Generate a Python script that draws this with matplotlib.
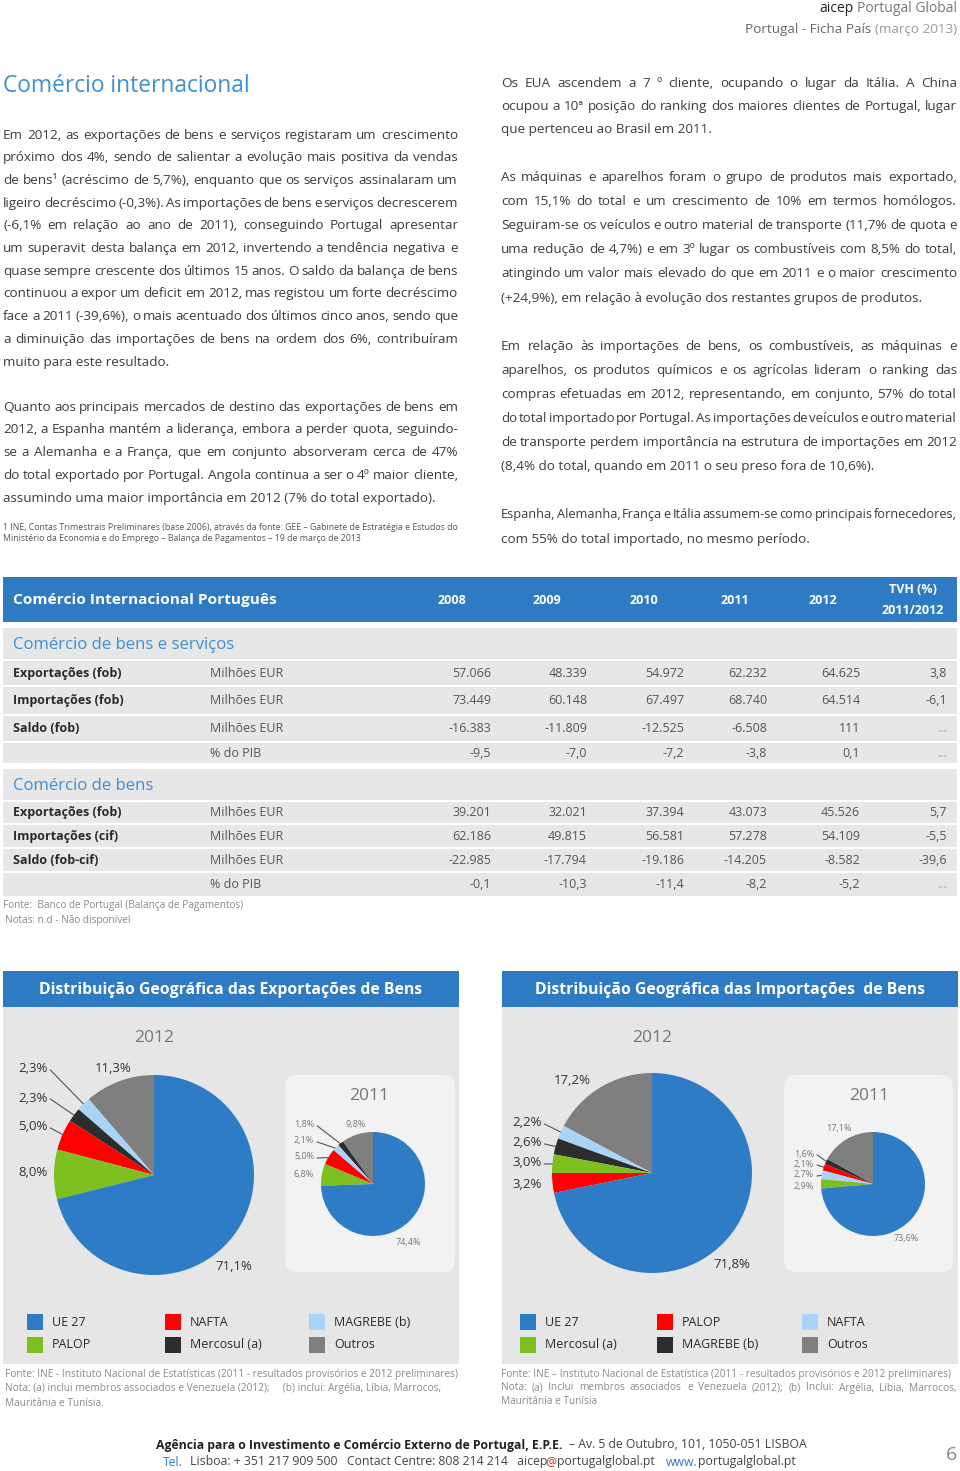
import numpy as np
import matplotlib
matplotlib.use("Agg")
import matplotlib.pyplot as plt
from matplotlib.patches import Rectangle, FancyBboxPatch

# ==============================
# DATA
# ==============================
years = ["2008", "2009", "2010", "2011", "2012"]

bs_labels = ["Exportações (fob)", "Importações (fob)", "Saldo (fob)", ""]
bs_units = ["Milhões EUR", "Milhões EUR", "Milhões EUR", "% do PIB"]
bs_values = [
    ["57.066", "48.339", "54.972", "62.232", "64.625", "3,8"],
    ["73.449", "60.148", "67.497", "68.740", "64.514", "-6,1"],
    ["-16.383", "-11.809", "-12.525", "-6.508", "111", "..."],
    ["-9,5", "-7,0", "-7,2", "-3,8", "0,1", "..."],
]

b_labels = ["Exportações (fob)", "Importações (cif)", "Saldo (fob-cif)", ""]
b_units = ["Milhões EUR", "Milhões EUR", "Milhões EUR", "% do PIB"]
b_values = [
    ["39.201", "32.021", "37.394", "43.073", "45.526", "5,7"],
    ["62.186", "49.815", "56.581", "57.278", "54.109", "-5,5"],
    ["-22.985", "-17.794", "-19.186", "-14.205", "-8.582", "-39,6"],
    ["-0,1", "-10,3", "-11,4", "-8,2", "-5,2", "..."],
]

exp_regions = ["UE 27", "NAFTA", "MAGREBE (b)", "PALOP", "Mercosul (a)", "Outros"]
exp_2012 = [71.1, 5.0, 2.3, 8.0, 2.3, 11.3]
exp_2011 = [74.4, 5.0, 2.1, 6.8, 1.8, 9.8]

imp_regions = ["UE 27", "PALOP", "NAFTA", "Mercosul (a)", "MAGREBE (b)", "Outros"]
imp_2012 = [71.8, 3.2, 2.2, 3.0, 2.6, 17.2]
imp_2011 = [73.6, 2.1, 2.7, 2.9, 1.6, 17.1]

# ==============================
# STYLE / LAYOUT
# ==============================
W, H = 960, 1471
BLUE = "#2e7bc4"
SEC_BLUE = "#3f8fd4"
PIE_BLUE = "#2f7cc6"
RED = "#ff0000"
LBLUE = "#a9d3f7"
GREEN = "#7cbf1e"
BLACK = "#2d2d2d"
GRAY = "#7f7f7f"
TXT = "#3c3c3c"
ROW = "#e7e7e7"
PANEL = "#e6e6e6"
BOX = "#f2f2f2"

slice_colors = [PIE_BLUE, RED, LBLUE, GREEN, BLACK, GRAY]

plt.rcParams["font.family"] = ["Open Sans", "DejaVu Sans"]

fig = plt.figure(figsize=(9.6, 14.71), dpi=100)
ax = fig.add_axes([0, 0, 1, 1])
ax.set_xlim(0, W)
ax.set_ylim(H, 0)
ax.axis("off")
renderer = fig.canvas.get_renderer()


def space_w(size, weight="normal"):
    t1 = ax.text(0, 0, "a a", fontsize=size, fontweight=weight)
    t2 = ax.text(0, 0, "aa", fontsize=size, fontweight=weight)
    sp = t1.get_window_extent(renderer).width - t2.get_window_extent(renderer).width
    t1.remove()
    t2.remove()
    return sp


def measure(s, size, weight="normal"):
    core = s.strip(" ")
    n_sp = len(s) - len(s.lstrip(" ")) + len(s) - len(s.rstrip(" "))
    w = 0.0
    if core:
        t = ax.text(0, 0, core, fontsize=size, fontweight=weight)
        w = t.get_window_extent(renderer).width
        t.remove()
    if n_sp:
        w += n_sp * space_w(size, weight)
    return w


def run(x, y, parts, size, ha="left", pad=0.0):
    """parts: list of (text, color, weight), drawn one after another"""
    widths = [measure(t, size, wt) + pad for t, c, wt in parts]
    total = sum(widths)
    if ha == "right":
        x -= total
    elif ha == "center":
        x -= total / 2
    for (t, c, wt), w in zip(parts, widths):
        lead = len(t) - len(t.lstrip(" "))
        off = measure(" " * lead, size, wt) if lead else 0
        ax.text(x + off, y, t.strip(" "), fontsize=size, fontweight=wt, color=c,
                ha="left", va="center")
        x += w


def para(lines, x0, x1, y0, dy, size, color=TXT, plain=()):
    sp = space_w(size)
    for i, line in enumerate(lines):
        y = y0 + i * dy
        words = line.split(" ")
        if i == len(lines) - 1 or len(words) == 1 or i in plain:
            ax.text(x0, y, line, fontsize=size, color=color, ha="left", va="center")
            continue
        s = size
        ws = [measure(w, s) for w in words]
        need = sum(ws) + (len(words) - 1) * sp * 0.45
        if need > x1 - x0:
            s = size * (x1 - x0) / need
            ws = [measure(w, s) for w in words]
        gap = (x1 - x0 - sum(ws)) / (len(words) - 1)
        x = x0
        for w, wd in zip(words, ws):
            ax.text(x, y, w, fontsize=s, color=color, ha="left", va="center")
            x += wd + gap


# ==============================
# HEADER
# ==============================
run(957, 8, [("aicep ", "#222222", "normal"), ("Portugal Global", "#777777", "normal")], 10, ha="right")
run(957, 29, [("Portugal - Ficha País ", "#666666", "normal"), ("(março 2013)", "#9a9a9a", "normal")], 9.7, ha="right")

ax.text(3, 86, "Comércio internacional", fontsize=16.4, color=SEC_BLUE, ha="left", va="center")

# ==============================
# BODY TEXT
# ==============================
left_p1 = [
    "Em 2012, as exportações de bens e serviços registaram um crescimento",
    "próximo dos 4%, sendo de salientar a evolução mais positiva da vendas",
    "de bens¹ (acréscimo de 5,7%), enquanto que os serviços assinalaram um",
    "ligeiro decréscimo (-0,3%). As importações de bens e serviços decrescerem",
    "(-6,1% em relação ao ano de 2011), conseguindo Portugal apresentar",
    "um superavit desta balança em 2012, invertendo a tendência negativa e",
    "quase sempre crescente dos últimos 15 anos. O saldo da balança de bens",
    "continuou a expor um deficit em 2012, mas registou um forte decréscimo",
    "face a 2011 (-39,6%), o mais acentuado dos últimos cinco anos, sendo que",
    "a diminuição das importações de bens na ordem dos 6%, contribuíram",
    "muito para este resultado.",
]
left_p2 = [
    "Quanto aos principais mercados de destino das exportações de bens em",
    "2012, a Espanha mantém a liderança, embora a perder quota, seguindo-",
    "se a Alemanha e a França, que em conjunto absorveram cerca de 47%",
    "do total exportado por Portugal. Angola continua a ser o 4º maior cliente,",
    "assumindo uma maior importância em 2012 (7% do total exportado).",
]
right_p1 = [
    "Os EUA ascendem a 7 º cliente, ocupando o lugar da Itália. A China",
    "ocupou a 10ª posição do ranking dos maiores clientes de Portugal, lugar",
    "que pertenceu ao Brasil em 2011.",
]
right_p2 = [
    "As máquinas e aparelhos foram o grupo de produtos mais exportado,",
    "com 15,1% do total e um crescimento de 10% em termos homólogos.",
    "Seguiram-se os veículos e outro material de transporte (11,7% de quota e",
    "uma redução de 4,7%) e em 3º lugar os combustíveis com 8,5% do total,",
    "atingindo um valor mais elevado do que em 2011 e o maior crescimento",
    "(+24,9%), em relação à evolução dos restantes grupos de produtos.",
]
right_p3 = [
    "Em relação às importações de bens, os combustíveis, as máquinas e",
    "aparelhos, os produtos químicos e os agrícolas lideram o ranking das",
    "compras efetuadas em 2012, representando, em conjunto, 57% do total",
    "do total importado por Portugal. As importações de veículos e outro material",
    "de transporte perdem importância na estrutura de importações em 2012",
    "(8,4% do total, quando em 2011 o seu preso fora de 10,6%).",
]
right_p4 = [
    "Espanha, Alemanha, França e Itália assumem-se como principais fornecedores,",
    "com 55% do total importado, no mesmo período.",
]

body = 9.7
para(left_p1, 3, 458, 135, 22.7, body)
para(left_p2, 3, 458, 407, 22.75, body)
para(right_p1, 501, 957, 83, 23, body)
para(right_p2, 501, 957, 177, 24.2, body)
para(right_p3, 501, 957, 346, 24, body)
para(right_p4, 501, 957, 514, 25, body)

ax.text(3, 527, "1 INE, Contas Trimestrais Preliminares (base 2006), através da fonte: GEE – Gabinete de Estratégia e Estudos do",
        fontsize=6.3, color="#555555", ha="left", va="center")
ax.text(3, 538, "Ministério da Economia e do Emprego – Balança de Pagamentos – 19 de março de 2013",
        fontsize=6.3, color="#555555", ha="left", va="center")

# ==============================
# TABLE
# ==============================
ax.add_patch(Rectangle((3, 577), 954, 45, color=BLUE, lw=0))
ax.text(13, 600, "Comércio Internacional Português", fontsize=11.1, fontweight="bold",
        color="white", ha="left", va="center")
year_x = [452, 547, 644, 735, 823]
for yx, yr in zip(year_x, years):
    ax.text(yx, 600, yr, fontsize=9, fontweight="bold", color="white", ha="center", va="center")
ax.text(913, 589, "TVH (%)", fontsize=9, fontweight="bold", color="white", ha="center", va="center")
ax.text(913, 610, "2011/2012", fontsize=9, fontweight="bold", color="white", ha="center", va="center")

col_right = [491, 587, 684, 767, 860, 947]


def table_block(title, sec_band, rows, labels, units, values):
    ax.add_patch(Rectangle((3, sec_band[0]), 954, sec_band[1] - sec_band[0], color=ROW, lw=0))
    ax.text(13, (sec_band[0] + sec_band[1]) / 2 + 1, title, fontsize=12.1, color=SEC_BLUE,
            ha="left", va="center")
    for (top, bot), lab, unit, vals in zip(rows, labels, units, values):
        yc = (top + bot) / 2
        ax.add_patch(Rectangle((3, top), 954, bot - top, color=ROW, lw=0))
        ax.text(13, yc, lab, fontsize=9, fontweight="bold", color="#2a2a2a", ha="left", va="center")
        ax.text(210, yc, unit, fontsize=9, color="#555555", ha="left", va="center")
        for cx, v in zip(col_right, vals):
            col = "#aaaaaa" if v == "..." else "#555555"
            ax.text(cx, yc, v, fontsize=9, color=col, ha="right", va="center")


table_block("Comércio de bens e serviços", (628, 659),
            [(661, 685), (687, 714), (716, 741), (743, 763)], bs_labels, bs_units, bs_values)
table_block("Comércio de bens", (769, 800),
            [(802, 823), (825, 847), (849, 871), (873, 896)], b_labels, b_units, b_values)

ax.text(3, 905, "Fonte:  Banco de Portugal (Balança de Pagamentos)", fontsize=7.2, color="#8a8a8a",
        ha="left", va="center")
ax.text(5, 920, "Notas: n.d - Não disponível", fontsize=7.2, color="#8a8a8a", ha="left", va="center")

# ==============================
# PIE PANELS
# ==============================


def fmt(v):
    return f"{v:.1f}".replace(".", ",") + "%"


def draw_pie(cx, cy, r, values, order, label_pos, size, color):
    pax = fig.add_axes([(cx - r) / W, 1 - (cy + r) / H, 2 * r / W, 2 * r / H])
    vals = [values[i] for i in order]
    cols = [slice_colors[i] for i in order]
    pax.pie(vals, colors=cols, startangle=90, counterclock=True, radius=1,
            wedgeprops=dict(linewidth=0))
    pax.set_xlim(-1, 1)
    pax.set_ylim(-1, 1)
    pax.set_aspect("auto")
    pax.axis("off")
    total = sum(vals)
    cum = 0.0
    for v, (lx, ly, line) in zip(vals, label_pos):
        mid = np.deg2rad(90 + 360 * (cum + v / 2) / total)
        cum += v
        s = fmt(v)
        ax.text(lx, ly, s, fontsize=size, color=color, ha="left", va="center")
        if line:
            x0 = lx + measure(s, size) + 3
            ex = cx + r * 0.97 * np.cos(mid)
            ey = cy - r * 0.97 * np.sin(mid)
            ax.plot([x0, ex], [ly + 1, ey], color="#555555", lw=0.8)


def panel(x0, title, regions, legend_x, p12, p11, v12, v11, o12, o11, l12, l11, box_x):
    ax.add_patch(Rectangle((x0, 971), 456, 36, color=BLUE, lw=0))
    ax.text(x0 + 228, 990, title, fontsize=11.3, fontweight="bold", color="white",
            ha="center", va="center")
    ax.add_patch(Rectangle((x0, 1007), 456, 357, color=PANEL, lw=0))
    ax.add_patch(FancyBboxPatch((box_x[0], 1075), box_x[1] - box_x[0], 197,
                                boxstyle="round,pad=0,rounding_size=12", color=BOX, lw=0))
    ax.text(p12[0], 1038, "2012", fontsize=12.5, color="#777777", ha="center", va="center")
    ax.text(p11[0] - 4, 1096, "2011", fontsize=12.5, color="#777777", ha="center", va="center")
    draw_pie(p12[0], p12[1], 100, v12, o12, l12, 9.5, "#333333")
    draw_pie(p11[0], p11[1], 52, v11, o11, l11, 6.5, "#777777")
    for k, reg in enumerate(regions):
        row, col = divmod(k, 3)
        sx = legend_x[col]
        sy = 1314 + row * 23
        ax.add_patch(Rectangle((sx, sy), 16, 16, color=slice_colors[k], lw=0))
        ax.text(sx + 25, sy + 8, reg, fontsize=9, color="#2a2a2a", ha="left", va="center")


panel(3, "Distribuição Geográfica das Exportações de Bens", exp_regions, [27, 165, 309],
      (154, 1175), (373, 1184), exp_2012, exp_2011,
      [5, 2, 4, 1, 3, 0], [5, 4, 2, 1, 3, 0],
      [(95, 1069, False), (18, 1069, True), (18, 1098, True), (18, 1127, True),
       (18, 1172, False), (215, 1266, False)],
      [(345, 1125, False), (294, 1125, True), (294, 1141, True), (294, 1157, True),
       (294, 1175, False), (396, 1242, False)],
      (285, 455))

panel(502, "Distribuição Geográfica das Importações  de Bens", imp_regions, [520, 657, 802],
      (652, 1173), (873, 1184), imp_2012, imp_2011,
      [5, 2, 4, 3, 1, 0], [5, 4, 1, 2, 3, 0],
      [(554, 1081, False), (512, 1123, True), (512, 1143, True), (512, 1163, True),
       (512, 1185, False), (713, 1264, False)],
      [(826, 1129, False), (794, 1154, True), (794, 1164, True), (794, 1175, True),
       (794, 1186, False), (894, 1238, False)],
      (784, 953))

src_c = "#8a8a8a"
ax.text(5, 1375, "Fonte: INE - Instituto Nacional de Estatísticas (2011 - resultados provisórios e 2012 preliminares)",
        fontsize=7.3, color=src_c, ha="left", va="center")
ax.text(5, 1389, "Nota: (a) inclui membros associados e Venezuela (2012);     (b) inclui: Argélia, Líbia, Marrocos,",
        fontsize=7.3, color=src_c, ha="left", va="center")
ax.text(5, 1403, "Mauritânia e Tunísia.", fontsize=7.3, color=src_c, ha="left", va="center")

para(["Fonte: INE – Instituto Nacional de Estatística (2011 - resultados provisórios e 2012 preliminares)",
      "Nota: (a) Inclui membros associados e Venezuela (2012); (b) Inclui: Argélia, Líbia, Marrocos,",
      "Mauritânia e Tunísia"], 501, 957, 1374, 14, 7.3, src_c, plain=(0,))

# ==============================
# FOOTER
# ==============================
run(480, 1445, [("Agência para o Investimento e Comércio Externo de Portugal, E.P.E.", "#222222", "bold"),
                (" – Av. 5 de Outubro, 101, 1050-051 LISBOA", "#444444", "normal")], 8.8, ha="center")
run(480, 1462, [("Tel.", BLUE, "normal"),
                (" Lisboa: + 351 217 909 500   Contact Centre: 808 214 214   aicep", "#444444", "normal"),
                ("@", "#e2231a", "normal"),
                ("portugalglobal.pt   ", "#444444", "normal"),
                ("www.", BLUE, "normal"),
                ("portugalglobal.pt", "#444444", "normal")], 8.8, ha="center", pad=1.0)
ax.text(957, 1455, "6", fontsize=14, color="#888888", ha="right", va="center")

fig.savefig("out.png", dpi=100)
